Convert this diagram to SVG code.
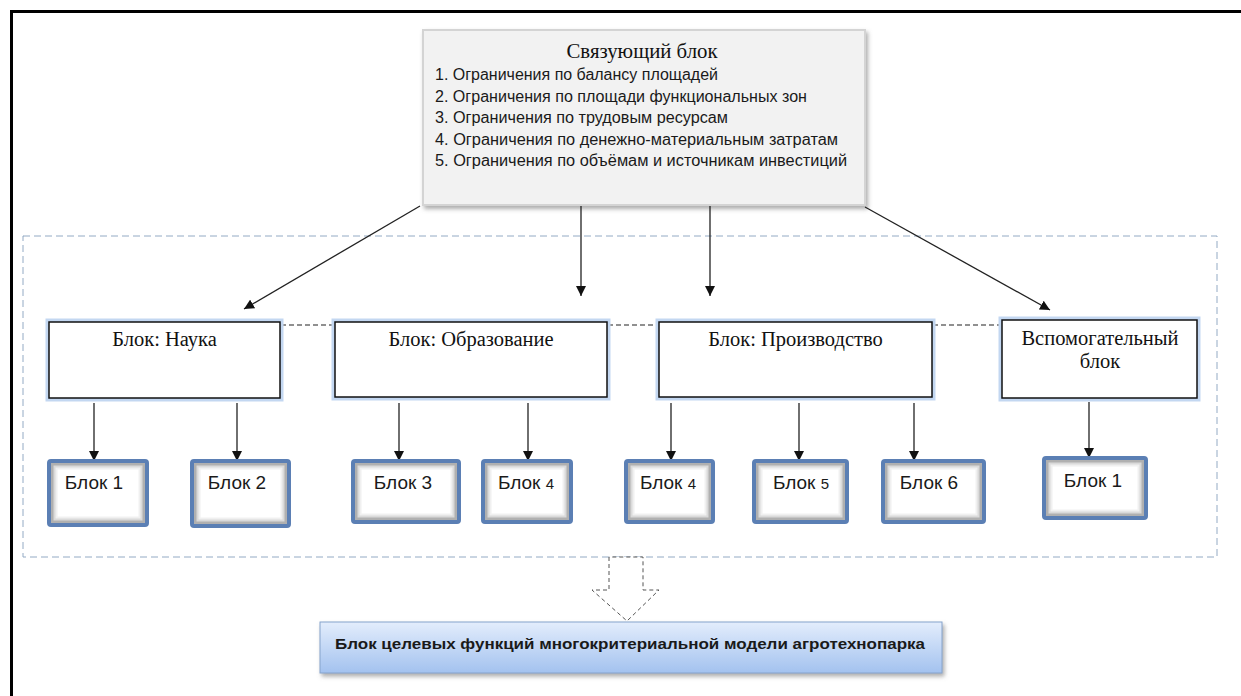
<svg xmlns="http://www.w3.org/2000/svg" width="1241" height="696" viewBox="0 0 1241 696">
<defs>
<style>
.serif{font-family:"Liberation Serif","DejaVu Serif",serif;fill:#111}
.sans{font-family:"Liberation Sans","DejaVu Sans",sans-serif;fill:#1a1a1a}
.conn{stroke:#222;stroke-width:1.3;fill:none;marker-end:url(#ah)}
.link{stroke:#222;stroke-width:1.2;stroke-dasharray:5 3;fill:none}
.glow{fill:none;stroke:#c3d7f1;stroke-width:7}
.blk{fill:#fff;stroke:#111;stroke-width:1.5}
.sfill{fill:#fff}
.in1{fill:none;stroke:#b0b0b0;stroke-width:3}
.in2{fill:none;stroke:#dadada;stroke-width:3}
.in3{fill:none;stroke:#f0f0f0;stroke-width:3}
.sbor{fill:none;stroke:#5b7fb4;stroke-width:4}
.stext{font-size:19px;text-anchor:middle}
</style>
<marker id="ah" viewBox="0 0 10 10" refX="10" refY="5" markerWidth="10" markerHeight="10" markerUnits="userSpaceOnUse" orient="auto">
<path d="M0,0 L10,5 L0,10 z" fill="#111"/>
</marker>
<filter id="shadow" x="-10%" y="-10%" width="120%" height="130%">
<feDropShadow dx="2" dy="3" stdDeviation="2" flood-color="#777" flood-opacity="0.6"/>
</filter>
<linearGradient id="bg" x1="0" y1="0" x2="0" y2="1">
<stop offset="0" stop-color="#e3edfc"/>
<stop offset="1" stop-color="#a3c2ef"/>
</linearGradient>
</defs>

<rect width="1241" height="696" fill="#fff"/>
<g id="frame">
<line x1="10" y1="11.5" x2="1241" y2="11.5" stroke="#000" stroke-width="3"/>
<line x1="11.5" y1="10" x2="11.5" y2="696" stroke="#000" stroke-width="3"/>
</g>

<g id="container">
<rect x="23" y="236" width="1194" height="321" fill="none" stroke="#93aac4" stroke-width="1" stroke-dasharray="7 4"/>
</g>

<g id="top-block">
<rect x="423" y="30" width="442" height="175" fill="#f2f2f2" stroke="#d4d4d4" stroke-width="2" filter="url(#shadow)"/>
<text class="serif" x="642" y="58" font-size="21" text-anchor="middle" textLength="151" lengthAdjust="spacingAndGlyphs">Связующий блок</text>
<text class="sans" x="435" y="80" font-size="16" textLength="283" lengthAdjust="spacingAndGlyphs">1. Ограничения по балансу площадей</text>
<text class="sans" x="435" y="101.5" font-size="16" textLength="372" lengthAdjust="spacingAndGlyphs">2. Ограничения по площади функциональных зон</text>
<text class="sans" x="435" y="123" font-size="16" textLength="293" lengthAdjust="spacingAndGlyphs">3. Ограничения по трудовым ресурсам</text>
<text class="sans" x="435" y="144.5" font-size="16" textLength="403" lengthAdjust="spacingAndGlyphs">4. Ограничения по денежно-материальным затратам</text>
<text class="sans" x="435" y="166" font-size="16" textLength="412" lengthAdjust="spacingAndGlyphs">5. Ограничения по объёмам и источникам инвестиций</text>
</g>

<g id="connectors">
<line class="conn" x1="420" y1="206" x2="244" y2="309"/>
<line class="conn" x1="581" y1="206" x2="581" y2="296"/>
<line class="conn" x1="710" y1="206" x2="710" y2="296"/>
<line class="conn" x1="865" y1="207" x2="1050" y2="310"/>
<line class="link" x1="281" y1="325" x2="335" y2="325"/>
<line class="link" x1="608" y1="325" x2="664" y2="325"/>
<line class="link" x1="933" y1="325" x2="1010" y2="325"/>
<line class="conn" x1="94" y1="403" x2="94" y2="461"/>
<line class="conn" x1="237" y1="403" x2="237" y2="461"/>
<line class="conn" x1="399" y1="403" x2="399" y2="461"/>
<line class="conn" x1="528" y1="403" x2="528" y2="461"/>
<line class="conn" x1="671" y1="403" x2="671" y2="461"/>
<line class="conn" x1="799" y1="403" x2="799" y2="461"/>
<line class="conn" x1="914" y1="403" x2="914" y2="461"/>
<line class="conn" x1="1089" y1="402" x2="1089" y2="458"/>
<path d="M609,557 L609,590 L592,590 L627,621 L659,590 L643,590 L643,557 Z" fill="#fff" stroke="#555" stroke-width="1" stroke-dasharray="4 3"/>
</g>

<g id="block-nauka">
<rect class="glow" x="49" y="322" width="231" height="76"/>
<rect class="blk" x="49" y="322" width="231" height="76"/>
<text class="serif" x="164.5" y="346" font-size="20.5" text-anchor="middle">Блок: Наука</text>
</g>
<g id="block-obrazovanie">
<rect class="glow" x="335" y="322" width="272" height="75"/>
<rect class="blk" x="335" y="322" width="272" height="75"/>
<text class="serif" x="471" y="346" font-size="20.5" text-anchor="middle">Блок: Образование</text>
</g>
<g id="block-proizvodstvo">
<rect class="glow" x="659" y="322" width="273" height="75"/>
<rect class="blk" x="659" y="322" width="273" height="75"/>
<text class="serif" x="795.5" y="346" font-size="20.5" text-anchor="middle">Блок: Производство</text>
</g>
<g id="block-vspom">
<rect class="glow" x="1002" y="320" width="195" height="78"/>
<rect class="blk" x="1002" y="320" width="195" height="78"/>
<text class="serif" x="1100" y="345" font-size="20.5" text-anchor="middle">Вспомогательный</text>
<text class="serif" x="1100" y="368" font-size="20.5" text-anchor="middle">блок</text>
</g>

<g id="sb1">
<rect class="sfill" x="49" y="461" width="98" height="64"/>
<rect class="in3" x="56" y="468" width="84" height="50"/>
<rect class="in2" x="54" y="466" width="88" height="54"/>
<rect class="in1" x="52" y="464" width="92" height="58"/>
<rect class="sbor" x="49" y="461" width="98" height="64" rx="2"/>
<text class="sans stext" x="94" y="489">Блок 1</text>
</g>
<g id="sb2">
<rect class="sfill" x="192" y="461" width="97" height="65"/>
<rect class="in3" x="199" y="468" width="83" height="51"/>
<rect class="in2" x="197" y="466" width="87" height="55"/>
<rect class="in1" x="195" y="464" width="91" height="59"/>
<rect class="sbor" x="192" y="461" width="97" height="65" rx="2"/>
<text class="sans stext" x="237" y="489">Блок 2</text>
</g>
<g id="sb3">
<rect class="sfill" x="353" y="461" width="106" height="61"/>
<rect class="in3" x="360" y="468" width="92" height="47"/>
<rect class="in2" x="358" y="466" width="96" height="51"/>
<rect class="in1" x="356" y="464" width="100" height="55"/>
<rect class="sbor" x="353" y="461" width="106" height="61" rx="2"/>
<text class="sans stext" x="403" y="489">Блок 3</text>
</g>
<g id="sb4a">
<rect class="sfill" x="483" y="461" width="88" height="61"/>
<rect class="in3" x="490" y="468" width="74" height="47"/>
<rect class="in2" x="488" y="466" width="78" height="51"/>
<rect class="in1" x="486" y="464" width="82" height="55"/>
<rect class="sbor" x="483" y="461" width="88" height="61" rx="2"/>
<text class="sans stext" x="526" y="489">Блок <tspan font-size="15">4</tspan></text>
</g>
<g id="sb4b">
<rect class="sfill" x="626" y="461" width="87" height="61"/>
<rect class="in3" x="633" y="468" width="73" height="47"/>
<rect class="in2" x="631" y="466" width="77" height="51"/>
<rect class="in1" x="629" y="464" width="81" height="55"/>
<rect class="sbor" x="626" y="461" width="87" height="61" rx="2"/>
<text class="sans stext" x="668" y="489">Блок <tspan font-size="15">4</tspan></text>
</g>
<g id="sb5">
<rect class="sfill" x="754" y="461" width="93" height="61"/>
<rect class="in3" x="761" y="468" width="79" height="47"/>
<rect class="in2" x="759" y="466" width="83" height="51"/>
<rect class="in1" x="757" y="464" width="87" height="55"/>
<rect class="sbor" x="754" y="461" width="93" height="61" rx="2"/>
<text class="sans stext" x="801" y="489">Блок <tspan font-size="15">5</tspan></text>
</g>
<g id="sb6">
<rect class="sfill" x="883" y="461" width="101" height="61"/>
<rect class="in3" x="890" y="468" width="87" height="47"/>
<rect class="in2" x="888" y="466" width="91" height="51"/>
<rect class="in1" x="886" y="464" width="95" height="55"/>
<rect class="sbor" x="883" y="461" width="101" height="61" rx="2"/>
<text class="sans stext" x="929" y="489">Блок 6</text>
</g>
<g id="sb1-aux">
<rect class="sfill" x="1044" y="458" width="102" height="60"/>
<rect class="in3" x="1051" y="465" width="88" height="46"/>
<rect class="in2" x="1049" y="463" width="92" height="50"/>
<rect class="in1" x="1047" y="461" width="96" height="54"/>
<rect class="sbor" x="1044" y="458" width="102" height="60" rx="2"/>
<text class="sans stext" x="1093" y="487">Блок 1</text>
</g>

<g id="target-block">
<rect x="320" y="622" width="622" height="51" fill="url(#bg)" stroke="#86a3cb" stroke-width="1" filter="url(#shadow)"/>
<text class="sans" x="630" y="649" font-size="15" font-weight="bold" text-anchor="middle" textLength="590" lengthAdjust="spacingAndGlyphs" fill="#111">Блок целевых функций многокритериальной модели агротехнопарка</text>
</g>
</svg>
